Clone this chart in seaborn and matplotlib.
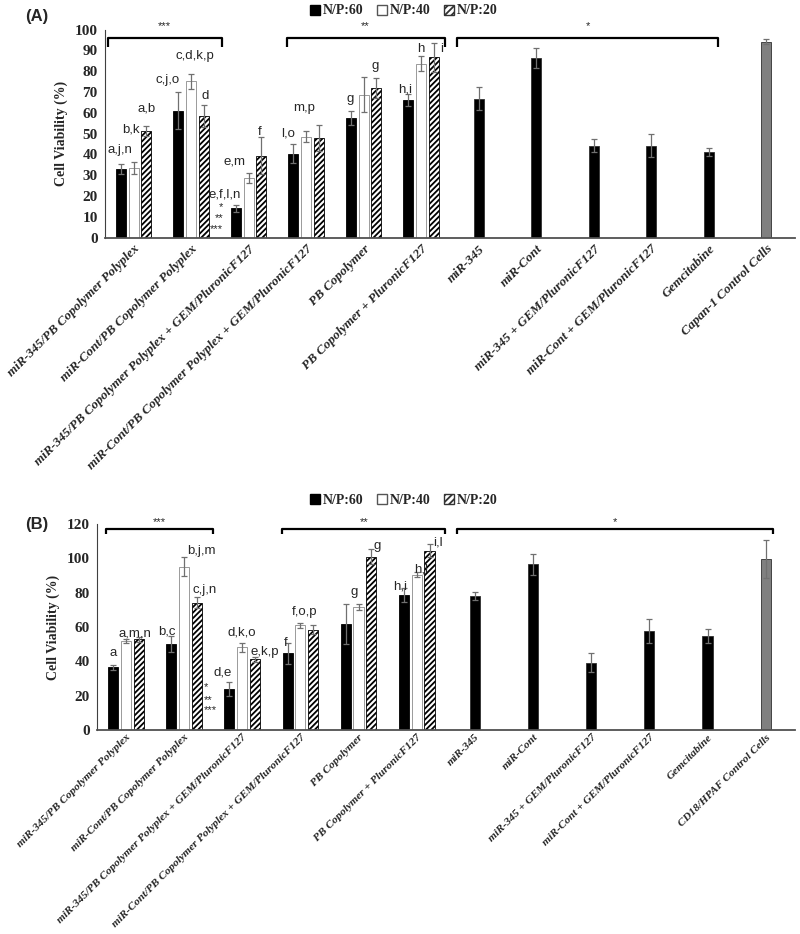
import numpy as np
import pandas as pd
import seaborn as sns
import matplotlib.pyplot as plt
from matplotlib.patches import Patch

# ---- data -------------------------------------------------------------
np_levels = ['N/P:60', 'N/P:40', 'N/P:20']

groups_common = ['miR-345/PB Copolymer Polyplex',
                 'miR-Cont/PB Copolymer Polyplex',
                 'miR-345/PB Copolymer Polyplex + GEM/PluronicF127',
                 'miR-Cont/PB Copolymer Polyplex + GEM/PluronicF127',
                 'PB Copolymer',
                 'PB Copolymer + PluronicF127']
singles_a = ['miR-345', 'miR-Cont', 'miR-345 + GEM/PluronicF127',
             'miR-Cont + GEM/PluronicF127', 'Gemcitabine', 'Capan-1 Control Cells']
singles_b = ['miR-345', 'miR-Cont', 'miR-345 + GEM/PluronicF127',
             'miR-Cont + GEM/PluronicF127', 'Gemcitabine', 'CD18/HPAF Control Cells']

# panel A (Capan-1)
np60_a = [33, 61, 14, 40.3, 57.6, 66.2]
np40_a = [33.5, 75.1, 28.6, 48.5, 68.7, 83.6]
np20_a = [51.2, 58.3, 39.3, 47.8, 71.9, 86.6]
np60_a_err = [2.5, 8.8, 1.8, 4.6, 3.4, 3]
np40_a_err = [3, 3.5, 2.2, 2.5, 8.5, 3.5]
np20_a_err = [2.5, 5.3, 8.9, 6.1, 4.7, 7]
single_a = [66.8, 86.4, 44.2, 44.2, 41.2, 94.2]
single_a_err = [5.6, 4.8, 3, 5.6, 2, 1.3]

# panel B (CD18/HPAF)
np60_b = [36.6, 50.2, 24, 44.6, 61.7, 78.8]
np40_b = [51.6, 95.1, 48.2, 60.9, 71.6, 90.5]
np20_b = [52.9, 74.1, 41.2, 58.4, 101, 104.5]
np60_b_err = [1.5, 4.5, 3.9, 6, 11.8, 4]
np40_b_err = [1.2, 5.5, 2.7, 1.4, 1.8, 1.6]
np20_b_err = [1.5, 3.3, 1.5, 2.5, 4.3, 3.7]
single_b = [78, 96.5, 39.3, 57.6, 54.7, 99.6]
single_b_err = [2.5, 6.2, 5.4, 7, 4.1, 11.3]

# significance letters: (x, y, text)
letters_a = [(-0.24, 41.9, 'a,j,n'), (-0.05, 51.8, 'b,k'), (0.23, 61.8, 'a,b'),
             (0.60, 75.9, 'c,j,o'), (1.07, 87.2, 'c,d,k,p'), (1.24, 68.2, 'd'),
             (1.59, 20.5, 'e,f,l,n'), (1.75, 36.6, 'e,m'), (2.2, 50.6, 'f'),
             (2.68, 50.2, 'l,o'), (2.96, 62.3, 'm,p'), (3.76, 66.8, 'g'),
             (4.21, 82.3, 'g'), (4.72, 71.1, 'h,i'), (5.0, 90.7, 'h'), (5.36, 90.4, 'i')]
letters_b = [(-0.22, 44.7, 'a'), (0.15, 56.4, 'a,m,n'), (0.70, 57.4, 'b,c'),
             (1.29, 104, 'b,j,m'), (1.35, 81.7, 'c,j,n'), (1.66, 33.5, 'd,e'),
             (2.0, 56.8, 'd,k,o'), (2.39, 45.7, 'e,k,p'), (2.75, 50.6, 'f'),
             (3.07, 69, 'f,o,p'), (3.92, 80.2, 'g'), (4.32, 107, 'g'),
             (4.71, 83.3, 'h,i'), (5.07, 93.4, 'h,l'), (5.36, 109, 'i,l')]

brackets_a = [(-0.45, 1.53, '***'), (2.66, 5.41, '**'), (5.62, 10.17, '*')]
brackets_b = [(-0.35, 1.5, '***'), (2.69, 5.49, '**'), (5.69, 11.12, '*')]


def draw_panel(ax, singles, vals, errs, single_vals, single_errs, ymax, ystep,
               letters, brackets, br_y, br_h, star_x, star_ys, star_ha, xfont, xpad):
    cats = groups_common + singles
    df = pd.DataFrame({
        'group': groups_common * 3,
        'np': np.repeat(np_levels, 6),
        'val': np.concatenate(vals),
    })
    sns.barplot(data=df, x='group', y='val', hue='np', order=cats, hue_order=np_levels,
                palette=['black', 'white', 'white'], width=0.66, gap=0.21,
                errorbar=None, legend=False, ax=ax, edgecolor='black', linewidth=0.6)
    df_s = pd.DataFrame({'group': singles, 'val': single_vals})
    sns.barplot(data=df_s, x='group', y='val', hue='group', order=cats, hue_order=singles,
                palette=['black'] * 5 + ['#808080'], width=0.174, errorbar=None,
                legend=False, ax=ax, edgecolor='#303030', linewidth=0.6)

    for bar in ax.containers[1]:
        bar.set_edgecolor('#8a8a8a')
    for bar in ax.containers[2]:
        bar.set_hatch('//////')

    # error bars
    xs, ys, es = [], [], []
    for k in range(3):
        for bar, e in zip(ax.containers[k], errs[k]):
            xs.append(bar.get_x() + bar.get_width() / 2)
            ys.append(bar.get_height())
            es.append(e)
    for cont, e in zip(ax.containers[3:], single_errs):
        bar = cont[0]
        xs.append(bar.get_x() + bar.get_width() / 2)
        ys.append(bar.get_height())
        es.append(e)
    ax.errorbar(xs, ys, yerr=es, fmt='none', ecolor='#707070', elinewidth=0.9,
                capsize=2.5, capthick=0.9)

    for x, y, t in letters:
        ax.text(x, y, t, ha='center', va='center', fontsize=9.5, family='Liberation Sans')

    for x0, x1, t in brackets:
        ax.plot([x0, x0, x1, x1], [br_y - br_h, br_y, br_y, br_y - br_h], color='black',
                lw=1.6, clip_on=False, solid_capstyle='butt')
        ax.text((x0 + x1) / 2, br_y + br_h * 1.4, t, ha='center', va='center', fontsize=8,
                family='Liberation Sans')

    for y, t in zip(star_ys, ['*', '**', '***']):
        ax.text(star_x, y, t, ha=star_ha, va='center', fontsize=8, family='Liberation Sans')

    ax.set_xlim(-0.5, len(cats) - 0.5)
    ax.set_ylim(0, ymax)
    ax.set_yticks(np.arange(0, ymax + 1, ystep))
    ax.set_yticklabels([str(v) for v in np.arange(0, ymax + 1, ystep)],
                       fontsize=11, fontweight='bold')
    ax.set_xticks(range(len(cats)))
    ax.set_xticklabels(cats, rotation=45, ha='right', rotation_mode='anchor',
                       fontsize=xfont, fontweight='bold', fontstyle='italic')
    ax.tick_params(axis='x', length=0, pad=xpad)
    ax.tick_params(axis='y', length=3, width=0.8, pad=2)
    ax.set_xlabel('')
    ax.set_ylabel('Cell Viability (%)', fontsize=10, fontweight='bold', labelpad=5)
    sns.despine(ax=ax)
    ax.spines['left'].set_color('#404040')
    ax.spines['bottom'].set_color('#505050')
    ax.spines['bottom'].set_linewidth(1.3)


sns.set_style('white')
plt.rcParams['font.family'] = ['Liberation Serif', 'DejaVu Serif']
plt.rcParams['hatch.linewidth'] = 1.3

fig = plt.figure(figsize=(8, 9.34), dpi=100)
ax_a = fig.add_axes([0.131, 0.7457, 0.8625, 0.2227])
ax_b = fig.add_axes([0.121, 0.2184, 0.8725, 0.2206])

draw_panel(ax_a, singles_a, [np60_a, np40_a, np20_a], [np60_a_err, np40_a_err, np20_a_err],
           single_a, single_a_err, 100, 10, letters_a, brackets_a, 96, 4.2,
           1.56, [14.5, 9.2, 4.1], 'right', 9.5, 4)
draw_panel(ax_b, singles_b, [np60_b, np40_b, np20_b], [np60_b_err, np40_b_err, np20_b_err],
           single_b, single_b_err, 120, 20, letters_b, brackets_b, 117.1, 2.7,
           1.34, [24.9, 17.5, 11.7], 'left', 8.2, 2)

handles = [Patch(facecolor='black', edgecolor='black'),
           Patch(facecolor='white', edgecolor='#555555'),
           Patch(facecolor='white', edgecolor='#333333', hatch='/////')]
for y in [1 - 11 / 934, 1 - 500 / 934]:
    fig.legend(handles, np_levels, loc='center', bbox_to_anchor=(0.505, y), ncol=3,
               frameon=False, handlelength=0.7, handleheight=0.7, handletextpad=0.2,
               columnspacing=1.0, borderpad=0.1, prop={'weight': 'bold', 'size': 10})

fig.text(0.031, 0.982, '(A)', fontsize=12, fontweight='bold', family='Liberation Sans',
         va='center')
fig.text(0.031, 0.438, '(B)', fontsize=12, fontweight='bold', family='Liberation Sans',
         va='center')

fig.savefig('out.png', dpi=100)
